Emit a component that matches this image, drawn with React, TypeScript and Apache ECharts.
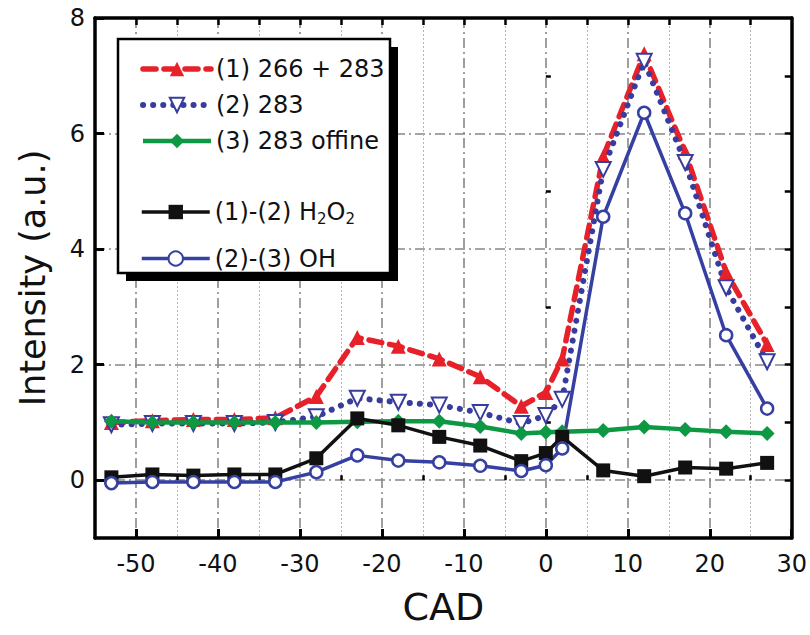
import React, { useEffect, useRef } from "react";
import * as echarts from "echarts";

// Crank angle (CAD) at which each intensity was sampled
const cad = [-53, -48, -43, -38, -33, -28, -23, -18, -13, -8, -3, 0, 2, 7, 12, 17, 22, 27];

// Intensities (a.u.)
const fullSignal = [1.0, 1.03, 1.05, 1.05, 1.08, 1.45, 2.47, 2.32, 2.1, 1.79, 1.28, 1.52, 2.1, 5.6, 7.38, 5.68, 3.6, 2.35];
const signal283 = [0.96, 0.98, 0.98, 0.98, 1.0, 1.1, 1.42, 1.35, 1.3, 1.17, 0.98, 1.12, 1.4, 5.38, 7.25, 5.5, 3.33, 2.05];
const offline283 = [1.02, 1.0, 1.0, 1.0, 1.0, 1.0, 1.01, 1.02, 1.02, 0.93, 0.81, 0.83, 0.84, 0.86, 0.92, 0.88, 0.84, 0.81];
const h2o2 = [0.05, 0.1, 0.08, 0.1, 0.1, 0.38, 1.07, 0.95, 0.75, 0.6, 0.33, 0.47, 0.75, 0.17, 0.07, 0.22, 0.2, 0.3];
const oh = [-0.05, -0.03, -0.03, -0.03, -0.03, 0.14, 0.43, 0.34, 0.31, 0.25, 0.16, 0.26, 0.55, 4.56, 6.36, 4.62, 2.51, 1.24];

const seriesNames = ["(1) 266 + 283", "(2) 283", "(3) 283 offine", "(1)-(2) H2O2", "(2)-(3) OH"];

// Axis tick positions
const xMajor = [-50, -40, -30, -20, -10, 0, 10, 20, 30];
const xMinor = [-45, -35, -25, -15, -5, 5, 15, 25];
const xAll = [-50, -45, -40, -35, -30, -25, -20, -15, -10, -5, 0, 5, 10, 15, 20, 25];
const yMajor = [0, 2, 4, 6, 8];
const yMinor = [1, 3, 5, 7];
const yAll = [0, 1, 2, 3, 4, 5, 6, 7];

const FONT = "DejaVu Sans";
const RED = "#e62129";
const BLUE = "#383c9e";
const GREEN = "#0d9944";
const BLACK = "#111111";
const BLUE2 = "#3540a2";

const pairs = (vals: number[]) => cad.map((x, i) => [x, vals[i]]);

export default function App() {
  const ref = useRef<HTMLDivElement>(null);

  useEffect(() => {
    if (!ref.current) return;
    const chart = echarts.init(ref.current, null, { renderer: "svg" });

    const frameLine = { show: true, onZero: false, lineStyle: { color: "#000", width: 3.5 } };
    const dashDot = { color: "#878787", width: 1.6, type: [10, 4, 2, 4] };
    const dotted = { color: "#b5b5b5", width: 1, type: [2, 2] };
    const tickLabel = { fontFamily: FONT, fontSize: 24, color: "#111" };
    const legendText = {
      fontFamily: FONT,
      fontSize: 24,
      color: "#111",
      rich: {
        n: { fontFamily: FONT, fontSize: 24, color: "#111" },
        s: { fontFamily: FONT, fontSize: 15, color: "#111", padding: [14, 0, 0, 0] },
      },
    };
    const legendLine = { width: "inherit", type: "inherit", cap: "inherit" };

    chart.setOption({
      animation: false,
      backgroundColor: "#fff",
      grid: { left: 95, right: 18, top: 18, bottom: 97, containLabel: false },
      xAxis: [
        {
          type: "value",
          position: "bottom",
          min: -55,
          max: 30,
          interval: 5,
          axisLine: frameLine,
          axisTick: { show: true, inside: true, length: 9, lineStyle: { color: "#000", width: 3 }, customValues: xMajor },
          axisLabel: { ...tickLabel, margin: 14, customValues: xMajor },
          splitLine: { show: true, lineStyle: dashDot },
          name: "CAD",
          nameLocation: "middle",
          nameGap: 50,
          nameTextStyle: { fontFamily: FONT, fontSize: 38, color: "#111" },
        },
        {
          type: "value",
          position: "bottom",
          min: -55,
          max: 30,
          interval: 5,
          axisLine: { show: false },
          axisTick: { show: true, inside: true, length: 5, lineStyle: { color: "#000", width: 2.5 }, customValues: xMinor },
          axisLabel: { show: false },
          splitLine: { show: true, lineStyle: dotted },
        },
        {
          type: "value",
          position: "top",
          min: -55,
          max: 30,
          interval: 5,
          axisLine: frameLine,
          axisTick: { show: true, inside: true, length: 7, lineStyle: { color: "#000", width: 2.5 }, customValues: xAll },
          axisLabel: { show: false },
          splitLine: { show: false },
        },
      ],
      yAxis: [
        {
          type: "value",
          position: "left",
          min: -1,
          max: 8,
          interval: 1,
          axisLine: frameLine,
          axisTick: { show: true, inside: true, length: 9, lineStyle: { color: "#000", width: 3 }, customValues: yMajor },
          axisLabel: { ...tickLabel, margin: 10, customValues: yMajor },
          splitLine: { show: true, lineStyle: dashDot },
          name: "Intensity (a.u.)",
          nameLocation: "middle",
          nameGap: 45,
          nameTextStyle: { fontFamily: FONT, fontSize: 35, color: "#111" },
        },
        {
          type: "value",
          position: "left",
          min: -1,
          max: 8,
          interval: 1,
          axisLine: { show: false },
          axisTick: { show: true, inside: true, length: 5, lineStyle: { color: "#000", width: 2.5 }, customValues: yMinor },
          axisLabel: { show: false },
          splitLine: { show: false },
        },
        {
          type: "value",
          position: "right",
          min: -1,
          max: 8,
          interval: 1,
          axisLine: frameLine,
          axisTick: { show: true, inside: true, length: 7, lineStyle: { color: "#000", width: 2.5 }, customValues: yAll },
          axisLabel: { show: false },
          splitLine: { show: false },
        },
      ],
      graphic: [
        { type: "rect", z: 3, shape: { x: 126, y: 47, width: 272, height: 234 }, style: { fill: "#000" } },
        {
          type: "rect",
          z: 3,
          shape: { x: 118, y: 39, width: 272, height: 234 },
          style: { fill: "#fff", stroke: "#000", lineWidth: 2.5 },
        },
      ],
      legend: [
        {
          data: seriesNames.slice(0, 3),
          orient: "vertical",
          left: 135,
          top: 52,
          itemWidth: 68,
          itemHeight: 18,
          itemGap: 12,
          selectedMode: false,
          textStyle: legendText,
          lineStyle: legendLine,
          z: 10,
        },
        {
          data: seriesNames.slice(3),
          orient: "vertical",
          left: 135,
          top: 195,
          itemWidth: 68,
          itemHeight: 18,
          itemGap: 20,
          selectedMode: false,
          textStyle: legendText,
          lineStyle: legendLine,
          formatter: (name: string) =>
            name === "(1)-(2) H2O2" ? "{n|(1)-(2) H}{s|2}{n|O}{s|2}" : "{n|" + name + "}",
          z: 10,
        },
      ],
      series: [
        {
          name: seriesNames[0],
          type: "line",
          data: pairs(fullSignal),
          symbol: "triangle",
          symbolSize: 15,
          itemStyle: { color: RED },
          lineStyle: { color: RED, width: 5.5, type: [13, 8], cap: "round" },
        },
        {
          name: seriesNames[1],
          type: "line",
          data: pairs(signal283),
          symbol: "triangle",
          symbolRotate: 180,
          symbolSize: 15,
          itemStyle: { color: "#fff", borderColor: BLUE, borderWidth: 2 },
          lineStyle: { color: BLUE, width: 6, type: [0.1, 10], cap: "round" },
        },
        {
          name: seriesNames[2],
          type: "line",
          data: pairs(offline283),
          symbol: "diamond",
          symbolSize: 15,
          itemStyle: { color: GREEN },
          lineStyle: { color: GREEN, width: 4.5 },
        },
        {
          name: seriesNames[3],
          type: "line",
          data: pairs(h2o2),
          symbol: "rect",
          symbolSize: 14,
          itemStyle: { color: BLACK },
          lineStyle: { color: BLACK, width: 3.5 },
        },
        {
          name: seriesNames[4],
          type: "line",
          data: pairs(oh),
          symbol: "circle",
          symbolSize: 12,
          itemStyle: { color: "#fff", borderColor: BLUE2, borderWidth: 2.5 },
          lineStyle: { color: BLUE2, width: 3.5 },
        },
      ],
    });

    return () => chart.dispose();
  }, []);

  return <div ref={ref} style={{ position: "absolute", left: 0, top: 0, width: 810, height: 635 }} />;
}
